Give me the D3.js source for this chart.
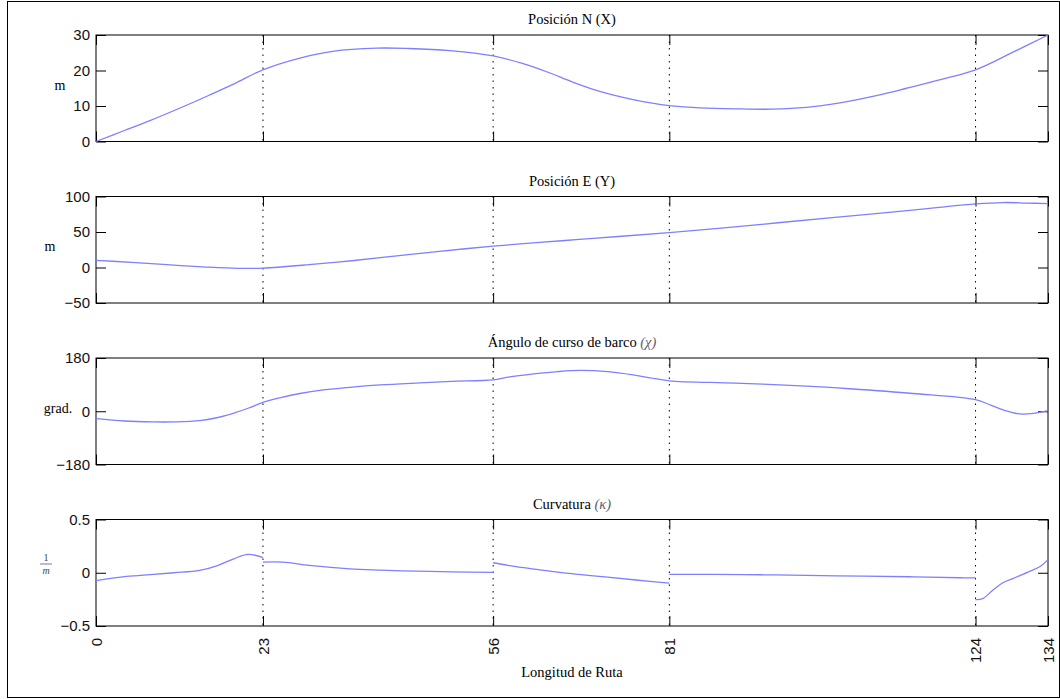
<!DOCTYPE html>
<html>
<head>
<meta charset="utf-8">
<script src="https://d3js.org/d3.v7.min.js"></script>
<style>
    body { margin: 0; background: #fff; }
</style>
</head>
<body>
<div id="visualization"></div>
<script>
// x axis: route length, breakpoints of the route (labels are rounded)
var xTicks = [0, 23.5, 55.9, 80.7, 123.8, 134];
var xTickLabels = ["0", "23", "56", "81", "124", "134"];
var gridX = [23.5, 55.9, 80.7, 123.8];

// Posicion N (X)
var nS   = [0, 4, 7.6, 12.5, 16, 19.5, 23.5, 28.7, 33.3, 39.5, 44, 49.8, 55.9, 60, 63.9, 67, 70.9, 75.6, 80.7, 85, 90, 95.3, 100, 104.7, 110, 114.1, 119, 123.8, 129, 134];
var nVal = [0, 3.1, 5.9, 10, 13.1, 16.3, 20.2, 23.5, 25.4, 26.3, 26.2, 25.6, 24.1, 22.0, 19.3, 16.8, 14.1, 11.8, 10.1, 9.5, 9.2, 9.1, 9.6, 10.9, 13.0, 15.0, 17.5, 20.2, 25.1, 30];

// Posicion E (Y)
var eS   = [0, 5, 10, 15, 20, 23.5, 30, 36, 42, 48, 55.9, 62, 68, 74, 80.7, 88, 96, 104, 112, 118, 123.8, 127.6, 131, 134];
var eVal = [10, 7.3, 4, 1, -1.2, -0.8, 4, 9.5, 16, 22.5, 30, 35, 39.5, 44, 49, 55.5, 63, 70.5, 78, 84, 89.5, 91.5, 90.8, 90];

// Angulo de curso (grados)
var chiS   = [0, 4, 8, 11, 14.6, 17, 19.3, 21.5, 23.5, 26, 28.7, 32, 35.7, 40, 45.6, 50, 55.9, 58, 61.6, 65, 68.2, 72, 75.6, 78, 80.7, 90, 100, 106.1, 115, 123.8, 126, 128, 130, 132, 134];
var chiVal = [-25, -33, -36, -36, -32, -22, -7, 11, 30, 46, 60, 72, 81, 89, 96, 101, 106, 115, 126, 134, 138, 134, 123, 113, 103, 95, 85, 76, 60, 39, 20, 2, -9, -7, 2];

// Curvatura (1/m), null = discontinuity
var kS   = [0, 4.3, 7.6, 11, 14.6, 17, 19.3, 21.4, 23.5, 23.5, 23.5, 26.3, 30, 35.7, 40, 45.1, 50, 55.9, 55.9, 55.9, 58, 61.6, 65, 68.6, 72, 76, 80.7, 80.7, 80.7, 87, 93.5, 100, 108, 115, 121.6, 123.8, 123.8, 123.8, 124.8, 126.3, 127.7, 129.2, 131.1, 132.9, 134];
var kVal = [-0.073, -0.035, -0.017, 0.0, 0.022, 0.065, 0.128, 0.173, 0.141, null, 0.10, 0.10, 0.07, 0.037, 0.025, 0.015, 0.009, 0.003, null, 0.094, 0.07, 0.035, 0.005, -0.02, -0.042, -0.068, -0.098, null, -0.016, -0.016, -0.019, -0.025, -0.032, -0.038, -0.047, -0.048, null, -0.252, -0.243, -0.16, -0.092, -0.05, 0.004, 0.058, 0.123];

var titles    = ["Posición N (X)", "Posición E (Y)", "Ángulo de curso de barco ", "Curvatura "];
var titleSyms = ["", "", "(χ)", "(κ)"];
var yLabels   = ["m", "m", "grad.", ""];
var yTicks    = [[0, 10, 20, 30], [-50, 0, 50, 100], [-180, 0, 180], [-0.5, 0, 0.5]];
var yDomains  = [[0, 30], [-50, 100], [-180, 180], [-0.5, 0.5]];

var panels = [
    {s: nS, v: nVal},
    {s: eS, v: eVal},
    {s: chiS, v: chiVal},
    {s: kS, v: kVal}
];

function draw_chart(){
    var W = 1060, H = 699;
    var left = 96, right = 1048,
        top0 = 35, step = 161.5, h = 106.5;
    var ylabelX = [60, 50, 58, 46];
    var serif = "'Liberation Serif', 'Times New Roman', serif",
        sans = "'Liberation Sans', Arial, sans-serif";

    var svg = d3.select("#visualization").append("svg")
        .attr("width", W)
        .attr("height", H);

    // outer frame
    svg.append("rect")
        .attr("x", 7.5).attr("y", 1.5)
        .attr("width", 1052).attr("height", 696)
        .attr("fill", "none").attr("stroke", "#000");

    var xScale = d3.scaleLinear()
        .domain([0, 134])
        .range([0, right - left]);

    panels.forEach(function(p, i){
        var top = top0 + i * step;
        var g = svg.append("g")
            .attr("transform", "translate(" + left + "," + top + ")");

        var yScale = d3.scaleLinear()
            .domain(yDomains[i])
            .range([h, 0]);

        // dotted grid at the route breakpoints
        g.selectAll(".grid")
            .data(gridX)
            .enter().append("line")
            .attr("x1", function(d){ return xScale(d); })
            .attr("x2", function(d){ return xScale(d); })
            .attr("y1", 0).attr("y2", h)
            .attr("stroke", "#000")
            .attr("stroke-width", 1)
            .attr("stroke-dasharray", "1.5,5");

        // y axes, ticks inward on both sides
        var ya = g.append("g")
            .call(d3.axisLeft(yScale).tickValues(yTicks[i]).tickSize(-10).tickPadding(6).tickFormat(d3.format("")));
        ya.selectAll("text")
            .attr("font-family", sans).attr("font-size", 15).attr("fill", "#111");
        g.append("g")
            .attr("transform", "translate(" + (right - left) + ",0)")
            .call(d3.axisRight(yScale).tickValues(yTicks[i]).tickSize(-10).tickFormat(""));

        // x axes top and bottom
        g.append("g")
            .call(d3.axisTop(xScale).tickValues(xTicks).tickSize(-10).tickFormat(""));
        var xa = g.append("g")
            .attr("transform", "translate(0," + h + ")")
            .call(d3.axisBottom(xScale).tickValues(xTicks).tickSize(-10)
                .tickFormat(function(d, j){ return i == 3 ? xTickLabels[j] : ""; }));
        xa.selectAll("text")
            .attr("font-family", sans).attr("font-size", 15).attr("fill", "#111")
            .attr("transform", "rotate(-90)")
            .attr("text-anchor", "end")
            .attr("x", -12).attr("y", 0).attr("dy", "0.35em");

        g.selectAll(".domain").remove();

        // box
        g.append("rect")
            .attr("width", right - left).attr("height", h)
            .attr("fill", "none").attr("stroke", "#000");

        // the curve
        var pts = p.s.map(function(s, j){ return {s: s, v: p.v[j]}; });
        var line = d3.line()
            .defined(function(d){ return d.v != null; })
            .x(function(d){ return xScale(d.s); })
            .y(function(d){ return yScale(d.v); })
            .curve(d3.curveCatmullRom.alpha(0.5));
        g.append("path")
            .datum(pts)
            .attr("d", line)
            .attr("fill", "none")
            .attr("stroke", "#7f7fff")
            .attr("stroke-width", 1.3);

        // title
        var t = svg.append("text")
            .attr("x", (left + right) / 2)
            .attr("y", top - 11)
            .attr("text-anchor", "middle")
            .attr("font-family", serif)
            .attr("font-size", 14.5)
            .attr("fill", "#000")
            .text(titles[i]);
        if (titleSyms[i]) {
            t.append("tspan").attr("fill", "#5c5c70").attr("font-style", "italic").text(titleSyms[i]);
        }

        // y label
        if (yLabels[i]) {
            svg.append("text")
                .attr("x", ylabelX[i])
                .attr("y", top + h / 2 - 3)
                .attr("text-anchor", "middle")
                .attr("dominant-baseline", "central")
                .attr("font-family", serif)
                .attr("font-size", 14)
                .attr("fill", "#000")
                .text(yLabels[i]);
        } else {
            // 1/m fraction
            var fx = ylabelX[i];
            svg.append("text").attr("x", fx).attr("y", top + 41.5)
                .attr("text-anchor", "middle").attr("font-family", serif)
                .attr("font-size", 10).attr("fill", "#445").text("1");
            svg.append("line").attr("x1", fx - 6).attr("x2", fx + 6)
                .attr("y1", top + 44.5).attr("y2", top + 44.5)
                .attr("stroke", "#556").attr("stroke-width", 0.8);
            svg.append("text").attr("x", fx).attr("y", top + 54)
                .attr("text-anchor", "middle").attr("font-family", serif)
                .attr("font-style", "italic")
                .attr("font-size", 10).attr("fill", "#445").text("m");
        }
    });

    svg.append("text")
        .attr("x", (left + right) / 2)
        .attr("y", 677)
        .attr("text-anchor", "middle")
        .attr("font-family", serif)
        .attr("font-size", 14.5)
        .attr("fill", "#000")
        .text("Longitud de Ruta");
}

draw_chart();
</script>
</body>
</html>
